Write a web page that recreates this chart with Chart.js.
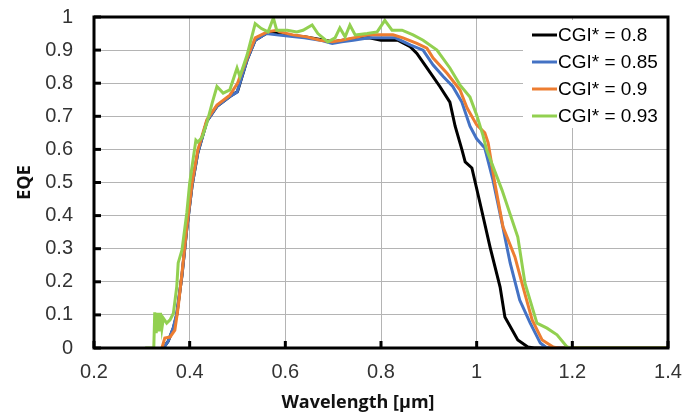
<!DOCTYPE html>
<html>
<head>
<meta charset="utf-8">
<script src="https://cdn.jsdelivr.net/npm/chart.js@4.4.1/dist/chart.umd.min.js"></script>
<style>
  html, body { margin: 0; padding: 0; background: #fff; }
  #wrap { width: 688px; height: 414px; }
</style>
</head>
<body>
<div id="wrap"><canvas id="eqeChart" width="688" height="414"></canvas></div>
<script>
// series labels / colours (legend order)
const seriesLabels = ['CGI* = 0.8', 'CGI* = 0.85', 'CGI* = 0.9', 'CGI* = 0.93'];
const seriesColors = ['#000000', '#4472C4', '#ED7D31', '#92D050'];

const xTitle = 'Wavelength [μm]';
const yTitle = 'EQE';
const xTicks = [0.2, 0.4, 0.6, 0.8, 1, 1.2, 1.4];
const xTickLabels = ['0.2', '0.4', '0.6', '0.8', '1', '1.2', '1.4'];
const yTicks = [0, 0.1, 0.2, 0.3, 0.4, 0.5, 0.6, 0.7, 0.8, 0.9, 1];
const yTickLabels = ['0', '0.1', '0.2', '0.3', '0.4', '0.5', '0.6', '0.7', '0.8', '0.9', '1'];

// CGI* = 0.8
const wl08 = [0.345, 0.355, 0.366, 0.373, 0.384, 0.394, 0.405, 0.417, 0.436, 0.457, 0.484, 0.50, 0.52, 0.537, 0.56, 0.582,
  0.61, 0.64, 0.673, 0.70, 0.72, 0.745, 0.775, 0.80, 0.835, 0.861, 0.875, 0.896, 0.923, 0.944, 0.955, 0.969, 0.976, 0.99,
  1.007, 1.028, 1.049, 1.059, 1.086, 1.107, 1.12, 1.4];
const eqe08 = [0, 0.02, 0.06, 0.1, 0.22, 0.36, 0.49, 0.59, 0.685, 0.73, 0.76, 0.775, 0.87, 0.93, 0.95, 0.95,
  0.945, 0.94, 0.932, 0.925, 0.93, 0.935, 0.937, 0.93, 0.93, 0.91, 0.89, 0.846, 0.79, 0.743, 0.67, 0.60, 0.562, 0.544,
  0.438, 0.305, 0.184, 0.094, 0.024, 0.003, 0, 0];

// CGI* = 0.85
const wl085 = [0.345, 0.355, 0.366, 0.373, 0.384, 0.394, 0.405, 0.417, 0.436, 0.457, 0.484, 0.499, 0.52, 0.537, 0.56, 0.582,
  0.61, 0.64, 0.673, 0.698, 0.718, 0.742, 0.775, 0.805, 0.83, 0.862, 0.888, 0.909, 0.93, 0.95, 0.969, 0.986, 1.0, 1.017,
  1.034, 1.053, 1.07, 1.09, 1.112, 1.133, 1.147, 1.4];
const eqe085 = [0, 0.02, 0.063, 0.105, 0.22, 0.36, 0.49, 0.59, 0.685, 0.73, 0.76, 0.773, 0.87, 0.93, 0.95, 0.946,
  0.942, 0.937, 0.93, 0.92, 0.925, 0.93, 0.937, 0.937, 0.937, 0.915, 0.9, 0.855, 0.82, 0.79, 0.743, 0.67, 0.632, 0.604,
  0.508, 0.378, 0.257, 0.145, 0.075, 0.015, 0, 0];

// CGI* = 0.9
const wl09 = [0.342, 0.348, 0.359, 0.369, 0.376, 0.384, 0.394, 0.405, 0.417, 0.436, 0.457, 0.484, 0.50, 0.52, 0.537, 0.562,
  0.582, 0.589, 0.616, 0.645, 0.673, 0.698, 0.718, 0.742, 0.771, 0.798, 0.825, 0.846, 0.875, 0.896, 0.909, 0.938, 0.965,
  0.98, 1.0, 1.017, 1.024, 1.038, 1.055, 1.08, 1.097, 1.116, 1.137, 1.16, 1.17, 1.4];
const eqe09 = [0, 0.03, 0.033, 0.054, 0.124, 0.227, 0.366, 0.498, 0.598, 0.69, 0.734, 0.764, 0.80, 0.876, 0.937, 0.955,
  0.96, 0.955, 0.946, 0.94, 0.93, 0.925, 0.93, 0.937, 0.946, 0.946, 0.946, 0.937, 0.92, 0.906, 0.876, 0.83, 0.78,
  0.725, 0.674, 0.65, 0.62, 0.498, 0.366, 0.275, 0.184, 0.085, 0.024, 0.003, 0, 0];

// CGI* = 0.93
const wl093 = [0.307, 0.325, 0.327, 0.330, 0.333, 0.336, 0.339, 0.342, 0.345, 0.352, 0.359, 0.366, 0.373, 0.376, 0.384,
  0.394, 0.40, 0.407, 0.413, 0.417, 0.426, 0.436, 0.447, 0.457, 0.47, 0.484, 0.499, 0.505, 0.52, 0.537, 0.55, 0.564, 0.575,
  0.582, 0.604, 0.624, 0.637, 0.656, 0.668, 0.689, 0.704, 0.714, 0.725, 0.735, 0.746, 0.771, 0.792, 0.808, 0.823, 0.844,
  0.867, 0.888, 0.917, 0.944, 0.965, 0.986, 1.0, 1.013, 1.021, 1.053, 1.086, 1.101, 1.126, 1.147, 1.168, 1.189, 1.2, 1.4];
const eqe093 = [0, 0, 0.108, 0.045, 0.106, 0.05, 0.106, 0.06, 0.09, 0.075, 0.085, 0.105, 0.185, 0.257, 0.296,
  0.408, 0.498, 0.568, 0.628, 0.622, 0.637, 0.68, 0.74, 0.79, 0.77, 0.78, 0.846, 0.82, 0.885, 0.98, 0.965, 0.955, 0.997,
  0.96, 0.96, 0.955, 0.96, 0.976, 0.95, 0.925, 0.937, 0.967, 0.94, 0.976, 0.946, 0.95, 0.955, 0.99, 0.96, 0.96,
  0.946, 0.93, 0.90, 0.846, 0.795, 0.758, 0.704, 0.643, 0.598, 0.477, 0.335, 0.196, 0.075, 0.06, 0.04, 0.003, 0, 0];

const seriesX = [wl08, wl085, wl09, wl093];
const seriesY = [eqe08, eqe085, eqe09, eqe093];

function toPoints(xs, ys) {
  return xs.map((x, i) => ({ x: x, y: ys[i] }));
}

// green drawn on top -> dataset order reversed
const datasets = [3, 2, 1, 0].map(i => ({
  label: seriesLabels[i],
  data: toPoints(seriesX[i], seriesY[i]),
  borderColor: seriesColors[i],
  backgroundColor: seriesColors[i],
  borderWidth: 3,
  pointRadius: 0,
  tension: 0,
  fill: false
}));

const tickFont = { family: '"Liberation Sans", Arial, sans-serif', size: 20 };
const titleFont = '"Open Sans", "Liberation Sans", sans-serif';

// frame, inward tick marks, legend box inside the plot, x title
const framePlugin = {
  id: 'frame',
  afterDatasetsDraw(chart) {
    const ctx = chart.ctx;
    const a = chart.chartArea;
    const xs = chart.scales.x, ys = chart.scales.y;
    ctx.save();

    // legend
    ctx.fillStyle = '#ffffff';
    ctx.fillRect(523, 20, a.right - 523, 108);
    ctx.font = '19px "Liberation Sans", Arial, sans-serif';
    ctx.textBaseline = 'middle';
    ctx.textAlign = 'left';
    seriesLabels.forEach((lab, i) => {
      const y = 35 + i * 27;
      ctx.strokeStyle = seriesColors[i];
      ctx.lineWidth = 3;
      ctx.beginPath();
      ctx.moveTo(532, y);
      ctx.lineTo(557, y);
      ctx.stroke();
      ctx.fillStyle = '#000';
      ctx.fillText(lab, 558, y + 1);
    });

    // tick marks pointing inward
    ctx.strokeStyle = '#000';
    ctx.lineWidth = 3;
    xTicks.forEach(v => {
      const px = xs.getPixelForValue(v);
      ctx.beginPath();
      ctx.moveTo(px, a.bottom);
      ctx.lineTo(px, a.bottom - 7);
      ctx.stroke();
    });
    yTicks.forEach(v => {
      const py = ys.getPixelForValue(v);
      ctx.beginPath();
      ctx.moveTo(a.left, py);
      ctx.lineTo(a.left + 7, py);
      ctx.stroke();
    });

    // box
    ctx.lineWidth = 3;
    ctx.strokeRect(a.left, a.top, a.right - a.left, a.bottom - a.top);

    // x axis title (sits a bit left of the plot centre in the original)
    ctx.font = 'bold 18px ' + titleFont;
    ctx.fillStyle = '#111';
    ctx.textAlign = 'center';
    ctx.textBaseline = 'middle';
    ctx.fillText(xTitle, 358, 403);
    ctx.restore();
  }
};

new Chart(document.getElementById('eqeChart'), {
  type: 'line',
  data: { datasets: datasets },
  options: {
    responsive: false,
    animation: false,
    layout: { padding: { left: 0, top: 17, right: 20, bottom: 0 } },
    plugins: {
      legend: { display: false },
      tooltip: { enabled: false }
    },
    scales: {
      x: {
        type: 'linear',
        min: 0.2,
        max: 1.4,
        afterFit: s => { s.height = 66; s.paddingLeft = 0; s.paddingRight = 0; },
        afterBuildTicks: s => { s.ticks = xTicks.map(v => ({ value: v })); },
        grid: { color: '#b4b4b4', lineWidth: 1, drawTicks: false },
        border: { display: false },
        ticks: {
          color: '#333', font: tickFont, padding: 12, maxRotation: 0,
          callback: (v, i) => xTickLabels[i]
        }
      },
      y: {
        type: 'linear',
        min: 0,
        max: 1,
        afterFit: s => { s.width = 94; s.paddingTop = 0; s.paddingBottom = 0; },
        afterBuildTicks: s => { s.ticks = yTicks.map(v => ({ value: v })); },
        grid: { color: '#b4b4b4', lineWidth: 1, drawTicks: false },
        border: { display: false },
        ticks: {
          color: '#333', font: tickFont, padding: 21,
          callback: (v, i) => yTickLabels[i]
        },
        title: {
          display: true,
          text: yTitle,
          color: '#111',
          font: { family: titleFont, size: 18, weight: 'bold', lineHeight: 1 },
          padding: { top: 16, bottom: 0 }
        }
      }
    }
  },
  plugins: [framePlugin]
});
</script>
</body>
</html>
